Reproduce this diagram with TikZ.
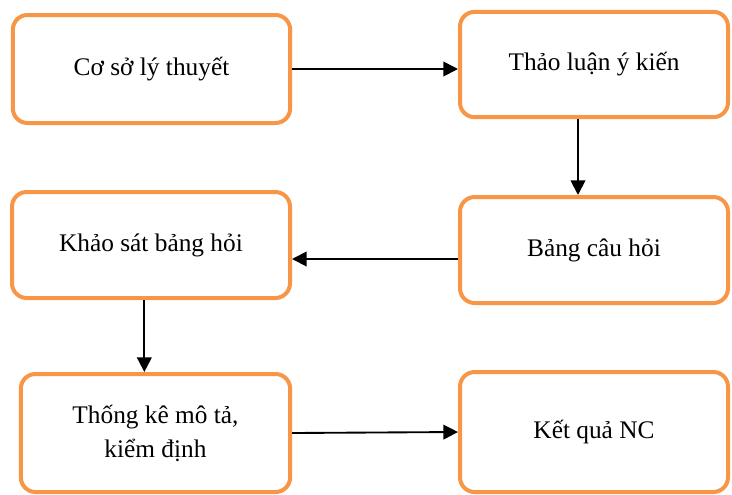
\documentclass[tikz,border=0pt]{standalone}
\usepackage{fontspec}
\setmainfont{Liberation Serif}
\usepackage{xcolor}
\usetikzlibrary{arrows.meta,positioning,calc}
\definecolor{boxorange}{HTML}{F79646}

\begin{document}
\begin{tikzpicture}[x=0.75pt,y=-0.75pt,
  box/.style={draw=boxorange,line width=3pt,rounded corners=11pt,fill=white,align=center,
    minimum width=201pt,minimum height=80pt,font=\fontsize{19}{25.5}\selectfont},
  link/.style={line width=1.4pt,-{Triangle[length=11pt,width=11pt]}}]
  \useasboundingbox (0,0) rectangle (732,494);
  \node[box,minimum width=208pt,minimum height=81pt] (lythuyet)   at (151.5,69)  {Cơ sở lý thuyết};
  \node[box,minimum height=79pt]                     (thaoluan)   at (594,64.5)  {Thảo luận ý kiến};
  \node[box,minimum height=79.5pt]                   (bangcauhoi) at (594,250)   {Bảng câu hỏi};
  \node[box,minimum width=208.5pt,minimum height=79.5pt] (khaosat) at (151,245)  {Khảo sát bảng hỏi};
  \node[box,minimum width=202pt,minimum height=88.5pt] (thongke)  at (155.5,433) {Thống kê mô tả,\\kiểm định};
  \node[box,minimum height=90pt]                     (ketqua)     at (594,432)   {Kết quả NC};
  \draw[link] (lythuyet.east) -- (lythuyet.east -| thaoluan.west);
  \draw[link] ([xshift=-12pt]thaoluan.south) -- ([xshift=-12pt]thaoluan.south |- bangcauhoi.north);
  \draw[link] ([yshift=-6.75pt]bangcauhoi.west) -- ([yshift=-6.75pt]bangcauhoi.west -| khaosat.east);
  \draw[link] ([xshift=-5pt]khaosat.south) -- ([xshift=-5pt]khaosat.south |- thongke.north);
  \draw[link] (thongke.east) -- (ketqua.west);
\end{tikzpicture}
\end{document}
